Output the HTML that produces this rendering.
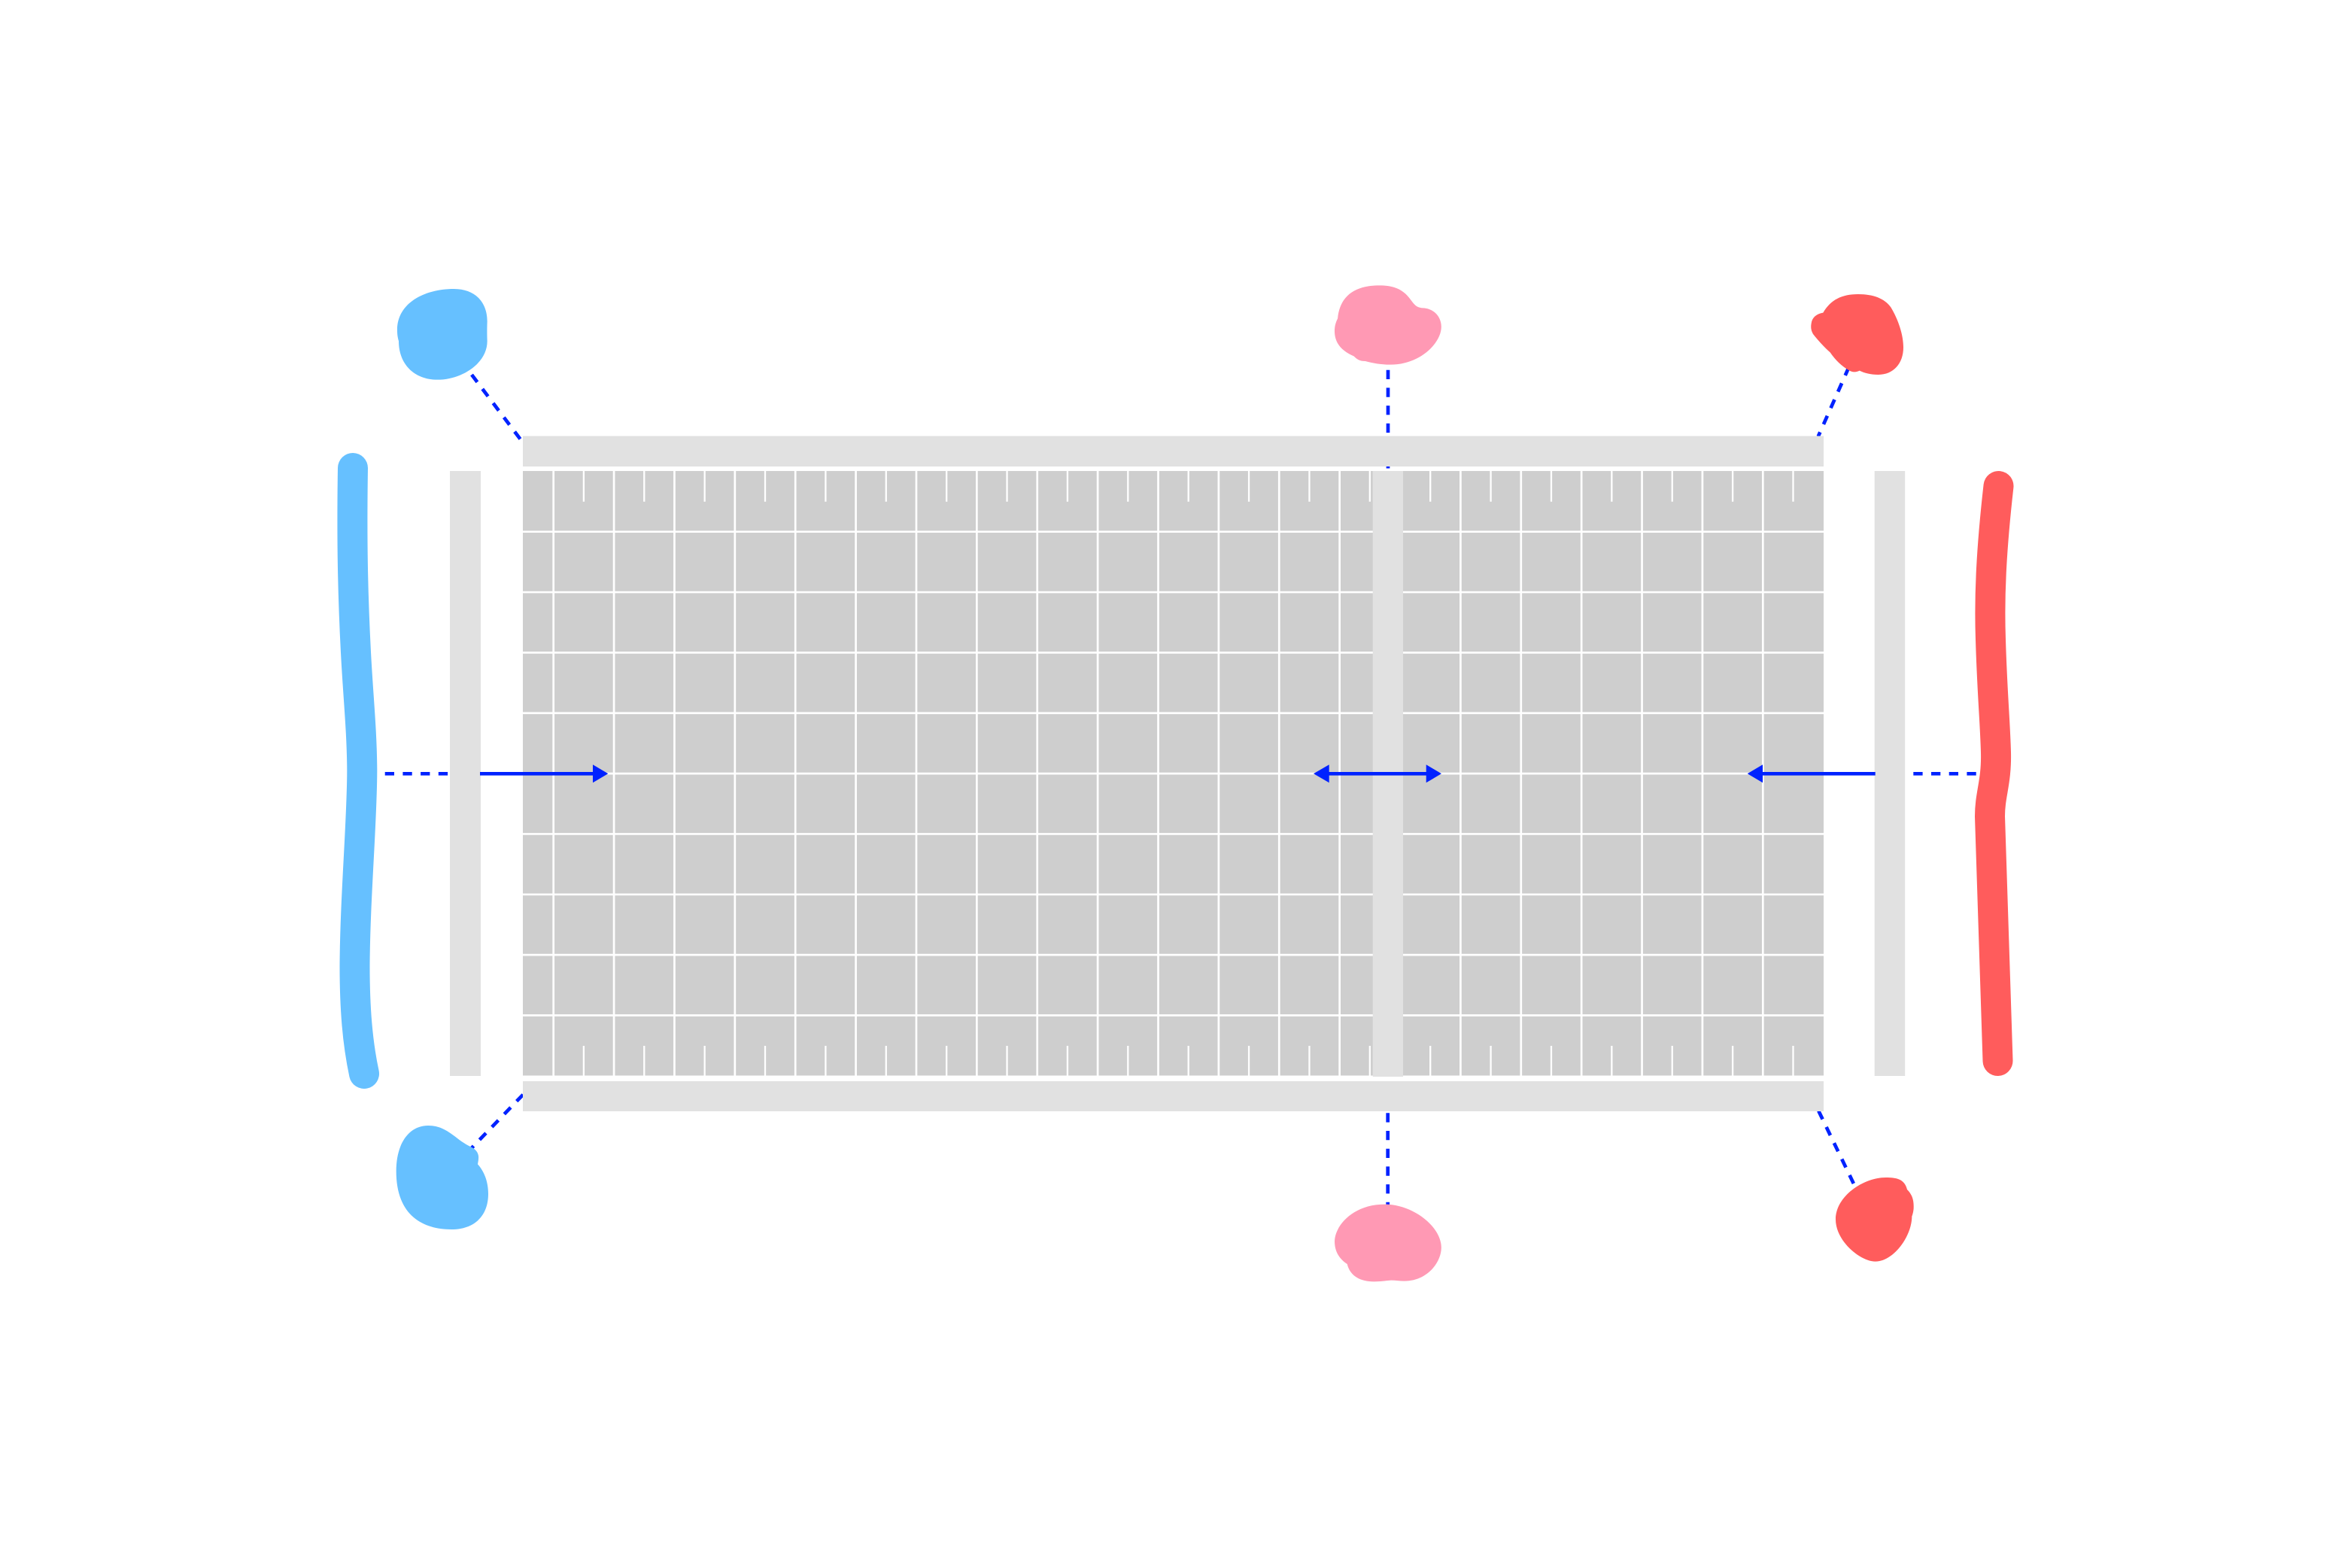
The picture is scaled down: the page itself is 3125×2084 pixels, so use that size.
<!DOCTYPE html>
<html>
<head>
<meta charset="utf-8">
<style>
html,body{margin:0;padding:0;background:#fff;width:3125px;height:2084px;overflow:hidden}
svg{display:block}
</style>
</head>
<body>
<svg xmlns="http://www.w3.org/2000/svg" width="3125" height="2084" viewBox="0 0 3125 2084">
<rect width="3125" height="2084" fill="#fff"/>
<rect x="695" y="626" width="1729" height="803.5" fill="#cecece"/>
<path fill="none" stroke="#fff" stroke-width="2.7" d="M735.7 626V1430M816.08 626V1430M896.46 626V1430M976.84 626V1430M1057.22 626V1430M1137.6 626V1430M1217.98 626V1430M1298.36 626V1430M1378.74 626V1430M1459.12 626V1430M1539.5 626V1430M1619.88 626V1430M1700.26 626V1430M1780.64 626V1430M1861.02 626V1430M1941.4 626V1430M2021.78 626V1430M2102.16 626V1430M2182.54 626V1430M2262.92 626V1430M2343.3 626V1430M695 706.7H2424M695 787.05H2424M695 867.4H2424M695 947.75H2424M695 1028.1H2424M695 1108.45H2424M695 1188.8H2424M695 1269.15H2424M695 1349.5H2424"/>
<path fill="none" stroke="#fff" stroke-width="2.3" d="M775.89 626V666.7M856.27 626V666.7M936.65 626V666.7M1017.03 626V666.7M1097.41 626V666.7M1177.79 626V666.7M1258.17 626V666.7M1338.55 626V666.7M1418.93 626V666.7M1499.31 626V666.7M1579.69 626V666.7M1660.07 626V666.7M1740.45 626V666.7M1820.83 626V666.7M1901.21 626V666.7M1981.59 626V666.7M2061.97 626V666.7M2142.35 626V666.7M2222.73 626V666.7M2303.11 626V666.7M2383.49 626V666.7M775.89 1390V1430M856.27 1390V1430M936.65 1390V1430M1017.03 1390V1430M1097.41 1390V1430M1177.79 1390V1430M1258.17 1390V1430M1338.55 1390V1430M1418.93 1390V1430M1499.31 1390V1430M1579.69 1390V1430M1660.07 1390V1430M1740.45 1390V1430M1820.83 1390V1430M1901.21 1390V1430M1981.59 1390V1430M2061.97 1390V1430M2142.35 1390V1430M2222.73 1390V1430M2303.11 1390V1430M2383.49 1390V1430"/>

<g fill="none" stroke="#0022ff" stroke-width="4.7" stroke-dasharray="12.3 11.4">
<path d="M627 498L693 585.5"/>
<path d="M1845 491.7V623"/>
<path d="M2457.7 487.7L2416.8 580"/>
<path d="M621 1532L697 1453"/>
<path d="M1844.7 1479.3V1606"/>
<path d="M2417.3 1476.5L2464 1573.3"/>
<path d="M511.7 1028.3H596"/>
<path d="M2543.3 1028.3H2628"/>
</g>

<g fill="#e1e1e1">
<rect x="695" y="579.5" width="1729" height="40.5"/>
<rect x="695" y="1437" width="1729" height="40"/>
<rect x="598" y="626" width="41" height="804"/>
<rect x="2491.7" y="626" width="40.5" height="804"/>
<rect x="1824.7" y="626" width="40.3" height="805"/>
</g>

<g stroke="#0022ff" stroke-width="4.7" fill="none">
<path d="M638 1028.3H790"/>
<path d="M1764 1028.3H1898"/>
<path d="M2341 1028.3H2492.7"/>
</g>
<g fill="#0022ff">
<path d="M788 1016.3L808.3 1028.3L788 1040.3Z"/>
<path d="M1766.7 1016.3L1746 1028.3L1766.7 1040.3Z"/>
<path d="M1895.7 1016.3L1916 1028.3L1895.7 1040.3Z"/>
<path d="M2343 1016.3L2322.7 1028.3L2343 1040.3Z"/>
</g>

<path fill="none" stroke="#66c0ff" stroke-width="40" stroke-linecap="round" d="M469 622C467.5 720 469 790 473 867C476 925 481 970 481.3 1023C481.5 1090 472 1190 471.5 1284C471.5 1340 475 1385 484 1427"/>
<path fill="none" stroke="#ff5c5c" stroke-width="40" stroke-linecap="round" d="M2656.5 646C2647 730 2644 790 2646 850C2648 920 2652 960 2653 1000C2654 1040 2645 1055 2645 1085L2655.5 1410"/>

<path fill="#66c0ff" transform="translate(400 340) scale(.33333)" d="M610 132C690 132 743 180 743 262C742 290 742 310 743 340C743 430 640 494 545 494C450 494 390 430 390 340C384 320 384 305 384 295C384 190 490 132 610 132Z"/>
<path fill="#66c0ff" transform="translate(420 1340) scale(.33333)" d="M448 468C490 468 520 485 555 512C580 532 600 545 622 555C640 565 650 580 648 600C648 607 646 615 645 622C670 650 687 690 687 740C687 830 630 882 540 882C430 882 320 830 320 650C320 540 370 468 448 468Z"/>
<path fill="#ff99b4" transform="translate(1700 340) scale(.5102 .33333)" d="M262 118C300 118 322 135 338 165C350 187 355 207 375 208C405 210 423 245 423 283C423 345 370 434 290 434C265 434 245 428 225 420C210 420 203 412 195 400C165 380 145 350 145 300C145 280 148 265 153 250C158 170 190 118 262 118Z"/>
<path fill="#ff99b4" transform="translate(1700 1340) scale(.57398 .33333)" d="M245 782C310 782 376 870 376 955C376 1010 345 1088 290 1088C280 1088 270 1085 260 1085C245 1087 235 1090 220 1090C190 1090 165 1070 158 1020C140 1000 129 970 129 930C129 870 170 782 245 782Z"/>
<path fill="#ff5c5c" transform="translate(2380 370) scale(.33333)" d="M270 63C330 63 375 80 400 115C430 165 450 225 450 275C450 340 410 384 350 384C320 384 295 378 275 368C262 375 245 375 232 366C205 350 178 325 158 295C135 275 110 248 90 222C80 205 80 190 85 170C92 150 110 140 130 137C160 85 205 63 270 63Z"/>
<path fill="#ff5c5c" transform="translate(2420 1550) scale(.33333)" d="M260 45C300 45 335 50 345 93C362 110 372 130 371 165C371 175 368 190 364 200C364 280 290 380 218 380C160 380 60 300 60 212C60 120 170 45 260 45Z"/>
</svg>
</body>
</html>
